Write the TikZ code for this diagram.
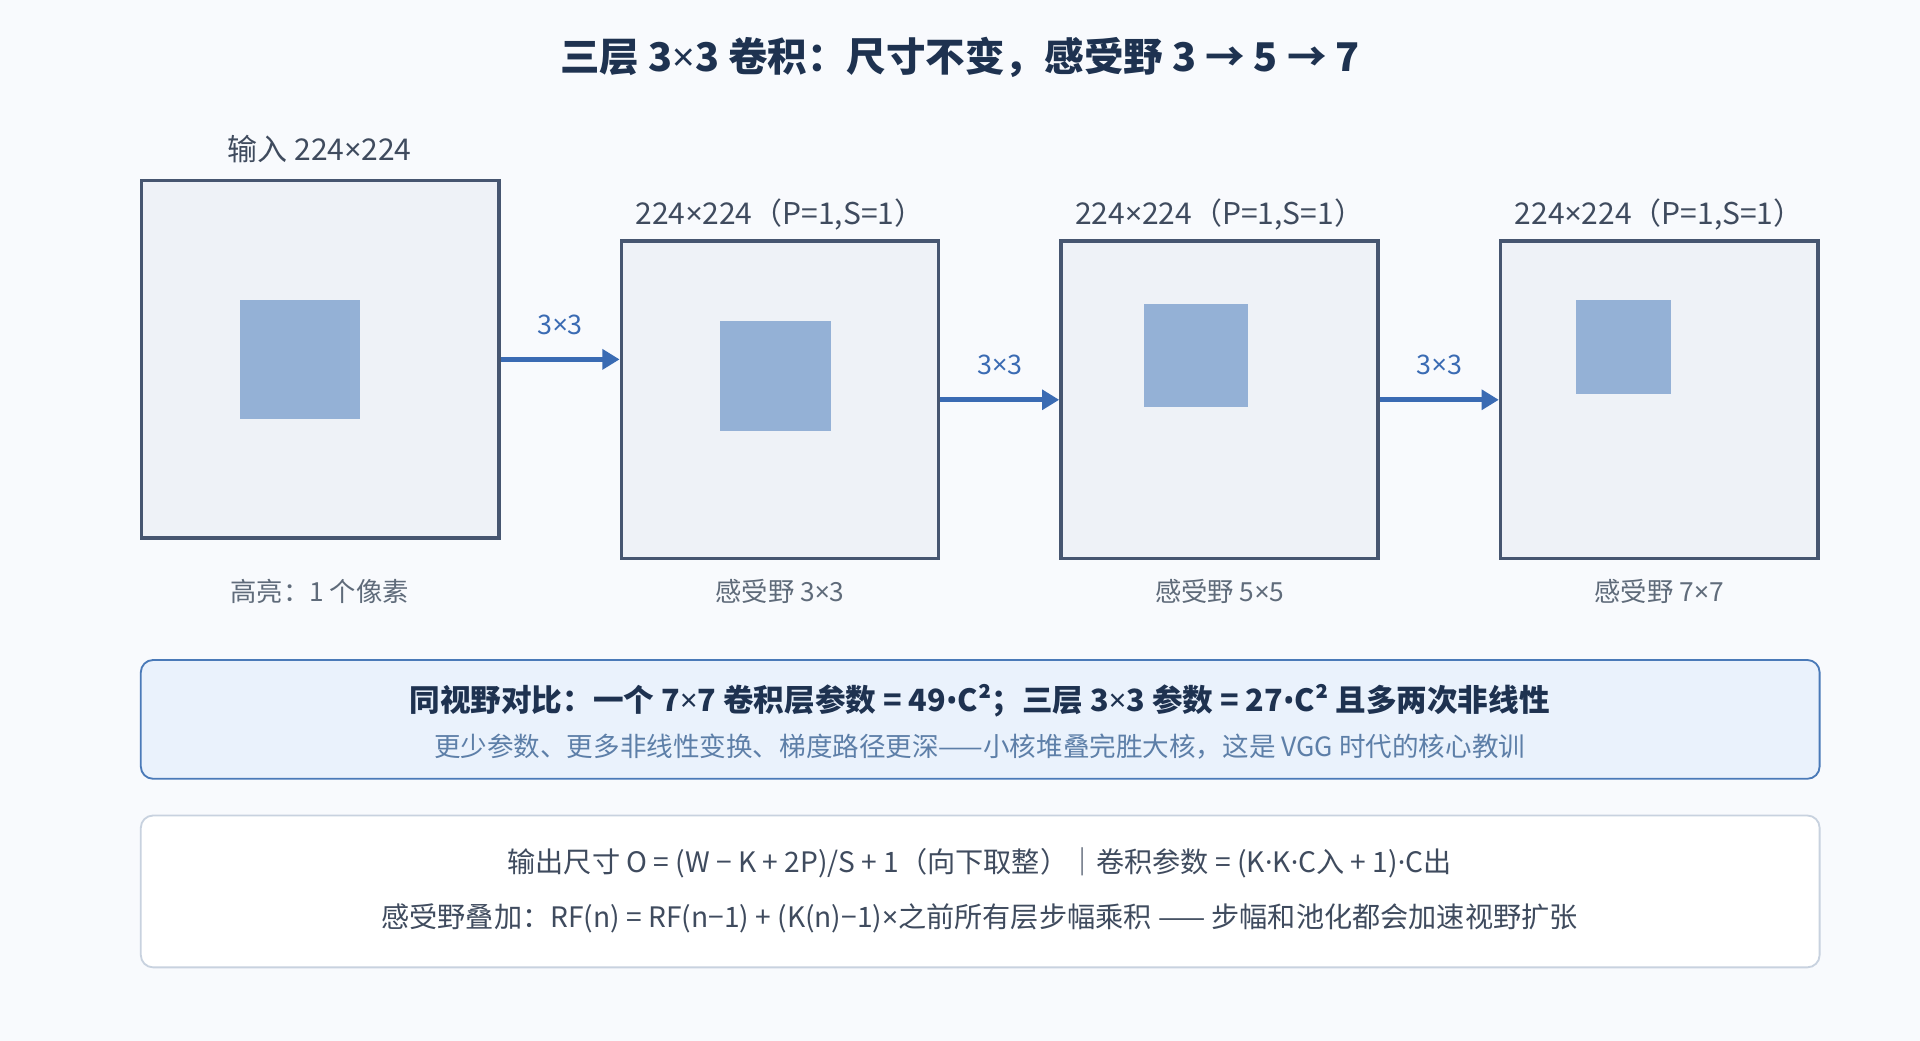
\documentclass[tikz,border=0pt]{standalone}
\usepackage{fontspec}
\setmainfont{Noto Sans CJK SC}
\newfontfamily\latinfont{Noto Sans}
\newcommand\kx{{\latinfont ×}}
\newcommand\kdot{{\latinfont ·}}
\newcommand\kbul{{\latinfont •}}
\usetikzlibrary{arrows.meta,positioning}

\definecolor{bgcol}{HTML}{F8FAFD}
\definecolor{titlecol}{HTML}{1E3250}
\definecolor{mapline}{HTML}{465670}
\definecolor{mapfill}{HTML}{EEF2F7}
\definecolor{rfcol}{HTML}{94B1D6}
\definecolor{flowcol}{HTML}{3A6BB3}
\definecolor{lblcol}{HTML}{3F4B5E}
\definecolor{subcol}{HTML}{5F6B7A}
\definecolor{notefill}{HTML}{EAF2FC}
\definecolor{noteline}{HTML}{4A7AB8}
\definecolor{notesub}{HTML}{5D7FA8}
\definecolor{boxline}{HTML}{C8D2DF}

\begin{document}
\begin{tikzpicture}[x=1pt,y=-1pt,
    fmap/.style={draw=mapline,fill=mapfill,line width=3pt,inner sep=0pt},
    rf/.style={fill=rfcol,inner sep=0pt},
    toplbl/.style={text=lblcol,font=\fontsize{24.5}{29}\selectfont},
    botlbl/.style={text=subcol,font=\fontsize{21.5}{26}\selectfont},
    flow/.style={draw=flowcol,line width=4pt,-{Triangle[length=14pt,width=16pt]}},
    klbl/.style={text=flowcol,font=\fontsize{22}{26}\selectfont},
    panel/.style={rounded corners=10pt,line width=1.5pt,minimum width=1371pt,inner sep=0pt}]

    % Background and page size
    \fill[bgcol] (0,0) rectangle (1568,850);

    % Title
    \node[text=titlecol,font=\bfseries\fontsize{32.3}{37}\selectfont] (title) at (784,47)
        {三层 3\kx 3 卷积：尺寸不变，感受野 3 → 5 → 7};

    % Input map with its one highlighted pixel
    \node[fmap,minimum width=292pt,minimum height=292pt] (in) at (261.5,293.5) {};
    \node[rf,minimum width=98pt,minimum height=97pt] (rf0) at (245,293.5) {};
    \node[toplbl] (inlbl) at (261,122) {输入 224\kx 224};
    \node[botlbl] (inbot) at (261,483) {高亮：1 个像素};

    % Conv 1
    \node[fmap,minimum width=259pt,minimum height=259pt] (c1) at (637,326.5) {};
    \node[rf,minimum width=91pt,minimum height=90pt] (rf1) at (633.5,307) {};
    \node[toplbl] (c1lbl) at (637,175) {224\kx 224（P=1,S=1）};
    \node[botlbl] (c1bot) at (637,483) {感受野 3\kx 3};

    % Conv 2
    \node[fmap,minimum width=259pt,minimum height=259pt] (c2) at (996,326.5) {};
    \node[rf,minimum width=85pt,minimum height=84pt] (rf2) at (976.5,290) {};
    \node[toplbl] (c2lbl) at (996,175) {224\kx 224（P=1,S=1）};
    \node[botlbl] (c2bot) at (996,483) {感受野 5\kx 5};

    % Conv 3
    \node[fmap,minimum width=259pt,minimum height=259pt] (c3) at (1355,326.5) {};
    \node[rf,minimum width=78pt,minimum height=77pt] (rf3) at (1326,283.5) {};
    \node[toplbl] (c3lbl) at (1355,175) {224\kx 224（P=1,S=1）};
    \node[botlbl] (c3bot) at (1355,483) {感受野 7\kx 7};

    % 3x3 kernels between maps
    \draw[flow] (in.east) -- (in.east -| c1.west) node[klbl,midway,above=15pt] {3\kx 3};
    \draw[flow] (c1.east) -- (c2.west) node[klbl,midway,above=15pt] {3\kx 3};
    \draw[flow] (c2.east) -- (c3.west) node[klbl,midway,above=15pt] {3\kx 3};

    % Comparison note
    \node[panel,draw=noteline,fill=notefill,minimum height=97pt] (note) at (800.5,587.5) {};
    \node[text=titlecol,font=\bfseries\fontsize{25}{29}\selectfont] (notea) at (800,572)
        {同视野对比：一个 7\kx 7 卷积层参数 = 49\kbul C²；三层 3\kx 3 参数 = 27\kbul C² 且多两次非线性};
    \node[text=notesub,font=\fontsize{21.7}{26}\selectfont] (noteb) at (800,610)
        {更少参数、更多非线性变换、梯度路径更深——小核堆叠完胜大核，这是 VGG 时代的核心教训};

    % Formulas
    \node[panel,draw=boxline,fill=white,minimum height=124pt] (form) at (800.5,728) {};
    \node[text=lblcol,font=\fontsize{23}{27}\selectfont] (forma) at (800,705)
        {输出尺寸 O = (W − K + 2P)/S + 1（向下取整）｜卷积参数 = (K\kdot K\kdot C入 + 1)\kdot C出};
    \node[text=lblcol,font=\fontsize{23}{27}\selectfont] (formb) at (800,750)
        {感受野叠加：RF(n) = RF(n−1) + (K(n)−1)\kx 之前所有层步幅乘积 —— 步幅和池化都会加速视野扩张};
\end{tikzpicture}
\end{document}
